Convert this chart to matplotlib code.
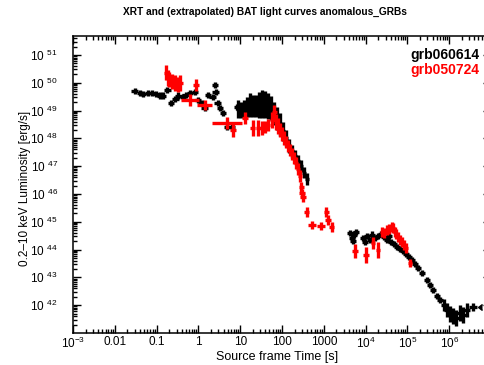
#!/usr/bin/env python

import numpy as np
import matplotlib
matplotlib.use("Agg")
from matplotlib import pyplot as plt
from matplotlib.ticker import FixedLocator, LogLocator, NullFormatter

plt.rcParams['font.family'] = ['Liberation Sans', 'DejaVu Sans']
plt.rcParams['mathtext.fontset'] = 'custom'
plt.rcParams['mathtext.rm'] = 'Liberation Sans'
plt.rcParams['mathtext.it'] = 'Liberation Sans'
plt.rcParams['mathtext.bf'] = 'Liberation Sans:bold'
plt.rcParams['mathtext.default'] = 'regular'

# grb060614 (black): time [s], log10 luminosity, half error in dex (L and t)
bk_t = [0.030, 0.040, 0.047, 0.062, 0.078, 0.097, 0.12, 0.14, 0.18, 0.22, 0.28, 0.33,
        0.43, 0.50, 0.63, 0.83, 0.98, 1.2, 1.4, 1.7, 2.2, 2.5, 2.6, 2.9, 3.3, 3.9,
        4.8, 6.4, 8.4,
        8.9, 10.5, 12.3, 14.6, 17, 20.3, 24, 28, 33, 39, 46, 55, 65, 76, 90, 106,
        125, 147, 173, 205, 242, 285, 337, 398,
        4240, 4700, 4970, 5270, 5890, 8670, 9700, 10800, 12800, 14200, 16800, 19800,
        23400, 27500, 32500, 36300, 40500, 47800, 56400, 66500, 78500, 92700, 109000,
        129000, 152000, 179000, 224000, 294000, 348000, 410000, 511000, 603000,
        751000, 885000, 1.04e6, 1.23e6, 1.46e6, 1.81e6, 2.14e6, 2.67e6, 3.71e6]
bk_logL = [49.70, 49.63, 49.60, 49.63, 49.63, 49.60, 49.53, 49.53, 49.74, 49.27, 49.42, 49.53,
           49.49, 49.56, 49.63, 49.67, 49.38, 49.27, 49.09, 49.56, 49.49, 49.92, 49.67, 49.27,
           49.09, 48.91, 48.41, 48.41, 49.13,
           49.06, 49.02, 49.08, 49.13, 49.20, 49.17, 49.17, 49.20, 49.24, 49.22, 49.17, 49.09,
           48.90, 48.72, 48.50, 48.25, 48.01, 47.73, 47.53, 47.35, 47.19, 47.01, 46.77, 46.54,
           44.60, 44.42, 44.31, 44.53, 44.63, 44.42, 44.27, 44.49, 44.35, 44.53, 44.42, 44.49,
           44.56, 44.45, 44.35, 44.49, 44.27, 44.20, 44.09, 44.02, 43.95, 43.84, 43.73,
           43.63, 43.48, 43.34, 43.16, 42.91, 42.73, 42.55, 42.33, 42.19,
           42.01, 41.83, 41.68, 41.61, 41.54, 41.72, 41.65, 41.83, 41.94]
bk_dlogL = [0.12] * 29 + \
           [0.32, 0.29, 0.31, 0.36, 0.43, 0.40, 0.40, 0.47, 0.50, 0.49, 0.47, 0.43,
            0.41, 0.41, 0.41, 0.34, 0.29, 0.25, 0.23, 0.23, 0.22, 0.22, 0.20, 0.22] + \
           [0.12] * 32 + [0.22, 0.25, 0.28, 0.30, 0.30, 0.28, 0.28, 0.25, 0.15]
bk_dlogt = [0.08] * 29 + [0.05] * 24 + [0.07] * 40 + [0.10]

# grb050724 (red)
rd_t = [0.168, 0.187, 0.20, 0.233, 0.28, 0.33, 0.363, 0.63, 0.88, 1.4, 4.8, 6.7, 13,
        20, 26.7, 33, 39, 46, 58, 65,
        71.8, 80.2, 90, 100, 112, 125, 139, 155, 173, 194, 216, 242, 270,
        285, 301, 318, 396, 522, 857, 1130, 1260, 1570, 5570, 10200,
        15000, 19800, 24700, 27500, 32500, 36300, 42800, 45300, 50500, 53300, 59600,
        66500, 74300, 83000, 92700, 115000]
rd_logL = [50.35, 50.17, 50.10, 50.03, 49.99, 49.92, 49.99, 49.38, 49.92, 49.20, 48.55, 48.30, 48.73,
           48.37, 48.37, 48.37, 48.41, 48.48, 48.66, 48.95,
           48.59, 48.45, 48.30, 48.16, 48.01, 47.87, 47.73, 47.58, 47.44, 47.29, 47.12, 46.90, 46.65,
           46.25, 46.04, 45.89, 45.35, 44.88, 44.85, 45.35, 45.06, 44.81, 43.95, 43.81,
           44.24, 43.99, 44.63, 44.60, 44.71, 44.74, 44.81, 44.78, 44.63, 44.56, 44.45,
           44.35, 44.27, 44.17, 44.06, 43.52]
rd_dlogL = [0.27] * 7 + [0.22, 0.22, 0.18, 0.22, 0.25, 0.22,
            0.29, 0.29, 0.25, 0.22, 0.22, 0.29, 0.25,
            0.29, 0.29, 0.25, 0.25, 0.25, 0.22, 0.22, 0.22, 0.22, 0.22, 0.22, 0.22, 0.22,
            0.18, 0.14, 0.18, 0.18, 0.14, 0.14, 0.18, 0.18, 0.18, 0.25, 0.29,
            0.22, 0.29, 0.18, 0.18, 0.18, 0.18, 0.18, 0.18, 0.18, 0.18, 0.18,
            0.18, 0.18, 0.18, 0.18, 0.14]
rd_dlogt = [0.06] * 7 + [0.22, 0.08, 0.17, 0.36, 0.08, 0.08] + [0.06] * 7 + \
           [0.04] * 13 + [0.06, 0.06, 0.06, 0.06, 0.10, 0.10, 0.06, 0.06, 0.06, 0.07, 0.07] + \
           [0.05] * 16

x_ticks = [1e-3, 1e-2, 1e-1, 1, 10, 100, 1000, 1e4, 1e5, 1e6]
x_labels = [r'$10^{-3}$', '0.01', '0.1', '1', '10', '100', '1000',
            r'$10^{4}$', r'$10^{5}$', r'$10^{6}$']
y_exps = [42, 43, 44, 45, 46, 47, 48, 49, 50, 51]


def errs(vals, dex):
    vals = np.asarray(vals, dtype=float)
    dex = np.asarray(dex, dtype=float)
    return vals, np.vstack([vals - vals * 10**-dex, vals * 10**dex - vals])


fig = plt.figure(figsize=(4.84, 3.65), dpi=100)
ax = fig.add_axes([73 / 484, 32 / 365, 418 / 484, 297 / 365])

for t, logL, dL, dt, col, z in [(bk_t, bk_logL, bk_dlogL, bk_dlogt, 'black', 2),
                                (rd_t, rd_logL, rd_dlogL, rd_dlogt, 'red', 3)]:
    tt, xe = errs(t, dt)
    LL, ye = errs(10**np.asarray(logL), dL)
    ax.errorbar(tt, LL, xerr=xe, yerr=ye, fmt='none', ecolor=col,
                elinewidth=2.4, capsize=0, zorder=z)

# time interval arrow on the last black point
ax.plot([bk_t[-1] * 10**0.12], [10**bk_logL[-1]], marker=4, color='black',
        markersize=4, zorder=2)

ax.set_xscale('log')
ax.set_yscale('log')
ax.set_xlim(1e-3, 1e7)
ax.set_ylim(1e41, 10**51.68)

ax.xaxis.set_major_locator(FixedLocator(x_ticks))
ax.set_xticklabels(x_labels)
ax.xaxis.set_minor_locator(LogLocator(base=10, subs=np.arange(2, 10), numticks=20))
ax.xaxis.set_minor_formatter(NullFormatter())
ax.yaxis.set_major_locator(FixedLocator([10.0**e for e in y_exps]))
ax.set_yticklabels([r'$10\ ^{%d}$' % e for e in y_exps])
ax.yaxis.set_minor_locator(LogLocator(base=10, subs=np.arange(2, 10), numticks=20))
ax.yaxis.set_minor_formatter(NullFormatter())

ax.tick_params(which='both', direction='in', top=True, right=True, width=1.0,
               labelsize=8.5, colors='black')
ax.tick_params(which='major', length=6, pad=2)
ax.tick_params(which='minor', length=3)
ax.tick_params(axis='y', which='major', pad=11)
for s in ax.spines.values():
    s.set_linewidth(1.1)

fig.text(277 / 484, 1 - 357 / 365, 'Source frame Time [s]', fontsize=9,
         ha='center', va='center')
fig.text(25 / 484, 1 - 188 / 365, '0.2\u201310 keV Luminosity [erg/s]', fontsize=8.5,
         rotation=90, ha='center', va='center')
fig.text(265 / 484, 1 - 12 / 365, 'XRT and (extrapolated) BAT light curves anomalous_GRBs',
         fontsize=7.3, ha='center', va='center', fontweight='bold')
fig.text(410 / 484, 1 - 55 / 365, 'grb060614', fontsize=10, color='black',
         ha='left', va='center', fontweight='bold')
fig.text(410 / 484, 1 - 70 / 365, 'grb050724', fontsize=10, color='red',
         ha='left', va='center', fontweight='bold')

fig.savefig('out.png', dpi=100)
